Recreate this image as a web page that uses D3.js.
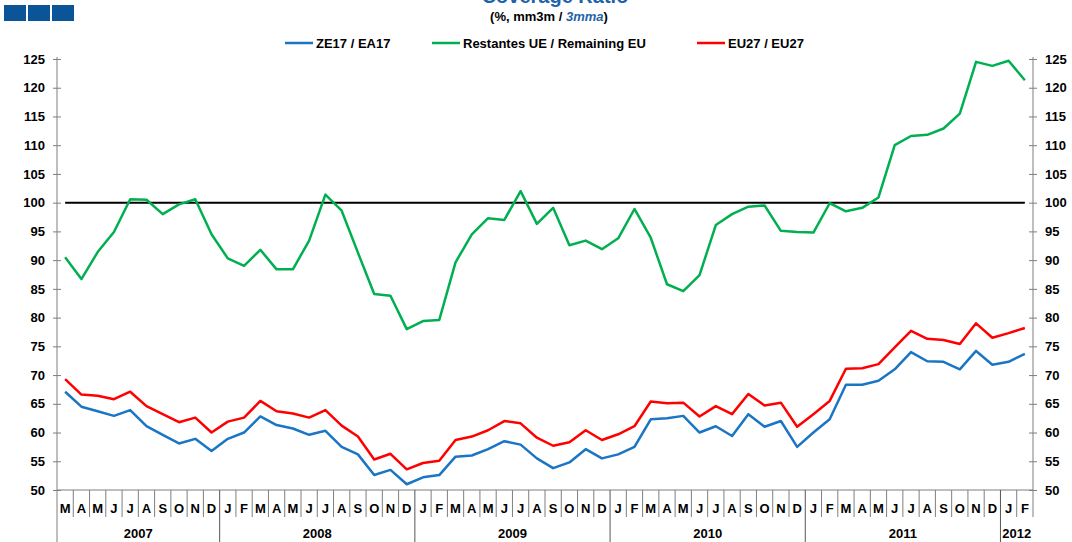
<!DOCTYPE html>
<html>
<head>
<meta charset="utf-8">
<script src="https://cdn.jsdelivr.net/npm/d3@7"></script>
<style>
  body { margin: 0; background: #fff; }
  text { font-family: "Liberation Sans", Arial, sans-serif; }
</style>
</head>
<body>
<div id="chart"></div>
<script>
var months = ["2007-03","2007-04","2007-05","2007-06","2007-07","2007-08","2007-09","2007-10","2007-11","2007-12",
  "2008-01","2008-02","2008-03","2008-04","2008-05","2008-06","2008-07","2008-08","2008-09","2008-10","2008-11","2008-12",
  "2009-01","2009-02","2009-03","2009-04","2009-05","2009-06","2009-07","2009-08","2009-09","2009-10","2009-11","2009-12",
  "2010-01","2010-02","2010-03","2010-04","2010-05","2010-06","2010-07","2010-08","2010-09","2010-10","2010-11","2010-12",
  "2011-01","2011-02","2011-03","2011-04","2011-05","2011-06","2011-07","2011-08","2011-09","2011-10","2011-11","2011-12",
  "2012-01","2012-02"];
var monthLetters = ["J","F","M","A","M","J","J","A","S","O","N","D"];
var years = ["2007","2008","2009","2010","2011","2012"];
var yTicks = [50,55,60,65,70,75,80,85,90,95,100,105,110,115,120,125];

var ze17 = [67.1,64.5,63.7,62.9,63.9,61.1,59.6,58.1,58.9,56.8,
  58.9,60.0,62.8,61.3,60.7,59.6,60.3,57.5,56.2,52.6,53.5,51.0,
  52.2,52.6,55.8,56.0,57.1,58.5,57.9,55.5,53.8,54.8,57.1,55.5,
  56.2,57.5,62.3,62.5,62.9,60.0,61.1,59.4,63.2,61.0,62.0,57.5,
  60.0,62.3,68.3,68.3,69.0,71.0,74.0,72.4,72.3,71.0,74.2,71.8,
  72.3,73.7];
var restUE = [90.5,86.7,91.4,94.9,100.6,100.5,98.0,99.7,100.6,94.5,
  90.3,89.0,91.8,88.4,88.4,93.4,101.4,98.6,91.3,84.1,83.8,78.0,
  79.4,79.6,89.6,94.5,97.3,97.0,102.0,96.3,99.1,92.6,93.4,91.9,
  93.8,98.9,93.9,85.8,84.6,87.4,96.1,98.0,99.3,99.5,95.1,94.9,
  94.8,99.9,98.5,99.1,100.9,110.0,111.6,111.8,112.9,115.5,124.5,123.8,
  124.7,121.3];
var eu27 = [69.3,66.6,66.4,65.8,67.1,64.6,63.2,61.8,62.6,60.0,
  61.9,62.6,65.5,63.7,63.3,62.6,63.9,61.2,59.3,55.3,56.3,53.6,
  54.7,55.1,58.7,59.3,60.4,62.0,61.6,59.1,57.7,58.3,60.4,58.7,
  59.7,61.1,65.4,65.1,65.2,62.8,64.6,63.2,66.7,64.7,65.2,61.0,
  63.2,65.5,71.1,71.2,71.9,74.8,77.7,76.3,76.1,75.4,79.0,76.5,
  77.3,78.2];

var seriesNames = ["ZE17 / EA17","Restantes UE / Remaining EU","EU27 / EU27"];
var seriesColors = ["#1a75c4","#00b050","#ff0000"];
var seriesData = [ze17, restUE, eu27];

var width = 1072, height = 542;
var plotLeft = 57, plotRight = 1033, plotTop = 59, plotBottom = 490;

var svg = d3.select("#chart").append("svg")
  .attr("width", width)
  .attr("height", height);

var x = d3.scaleBand().domain(months).range([plotLeft, plotRight]).padding(0);
var y = d3.scaleLinear().domain([50, 125]).range([plotBottom, plotTop]);

// logo squares
svg.selectAll(".logo").data([0,1,2]).enter().append("rect")
  .attr("x", function(d) { return 4 + d * 24; })
  .attr("y", 5)
  .attr("width", 22)
  .attr("height", 16)
  .attr("fill", "#0b5497");

// title
svg.append("text")
  .attr("x", 555).attr("y", 3)
  .attr("text-anchor", "middle")
  .attr("font-size", 20).attr("font-weight", "bold")
  .attr("fill", "#1f63aa")
  .text("Coverage Ratio");

var sub = svg.append("text")
  .attr("x", 549).attr("y", 21)
  .attr("text-anchor", "middle")
  .attr("font-size", 13).attr("font-weight", "bold")
  .attr("fill", "#000");
sub.append("tspan").text("(%, mm3m / ");
sub.append("tspan").attr("fill", "#1f63aa").attr("font-style", "italic").text("3mma");
sub.append("tspan").text(")");

// legend
var legendX = [285, 432, 697];
var legend = svg.selectAll(".legend").data(seriesNames).enter().append("g")
  .attr("class", "legend")
  .attr("transform", function(d, i) { return "translate(" + legendX[i] + ",43)"; });
legend.append("line")
  .attr("x1", 0).attr("x2", 28).attr("y1", 0).attr("y2", 0)
  .attr("stroke", function(d, i) { return seriesColors[i]; })
  .attr("stroke-width", 2.5);
legend.append("text")
  .attr("x", 31).attr("y", 5)
  .attr("font-size", 13).attr("font-weight", "bold")
  .text(function(d) { return d; });

// axes
var axisColor = "#7f7f7f";
var yLeft = svg.append("g")
  .attr("transform", "translate(" + plotLeft + ",0)")
  .call(d3.axisLeft(y).tickValues(yTicks).tickSize(4).tickPadding(8));
var yRight = svg.append("g")
  .attr("transform", "translate(" + plotRight + ",0)")
  .call(d3.axisRight(y).tickValues(yTicks).tickSize(4).tickPadding(8));
[yLeft, yRight].forEach(function(g) {
  g.select(".domain").remove();
  g.selectAll(".tick line").attr("x1", -4).attr("x2", 4).attr("stroke", axisColor);
  g.selectAll("text").attr("font-size", 13).attr("font-weight", "bold")
    .attr("font-family", "Liberation Sans, Arial, sans-serif").attr("fill", "#000");
});

svg.append("line")
  .attr("x1", plotLeft).attr("x2", plotLeft).attr("y1", plotTop - 2).attr("y2", height)
  .attr("stroke", axisColor);
svg.append("line")
  .attr("x1", plotRight).attr("x2", plotRight).attr("y1", plotTop - 2).attr("y2", 517)
  .attr("stroke", axisColor);
svg.append("line")
  .attr("x1", plotLeft).attr("x2", plotRight).attr("y1", plotBottom).attr("y2", plotBottom)
  .attr("stroke", axisColor);

// month separators and labels
svg.selectAll(".msep").data(months.slice(1)).enter().append("line")
  .attr("x1", function(d) { return x(d); })
  .attr("x2", function(d) { return x(d); })
  .attr("y1", plotBottom)
  .attr("y2", function(d) { return d.slice(5) === "01" ? height : 517; })
  .attr("stroke", function(d) { return d.slice(5) === "01" ? "#555" : axisColor; });

svg.selectAll(".mlab").data(months).enter().append("text")
  .attr("x", function(d) { return x(d) + x.bandwidth() / 2; })
  .attr("y", 513)
  .attr("text-anchor", "middle")
  .attr("font-size", 13).attr("font-weight", "bold")
  .text(function(d) { return monthLetters[+d.slice(5) - 1]; });

svg.selectAll(".ylab").data(years).enter().append("text")
  .attr("x", function(d) {
    var ms = months.filter(function(m) { return m.slice(0, 4) === d; });
    return (x(ms[0]) + x(ms[ms.length - 1]) + x.bandwidth()) / 2;
  })
  .attr("y", 538)
  .attr("text-anchor", "middle")
  .attr("font-size", 13).attr("font-weight", "bold")
  .text(function(d) { return d; });

// lines
var line = d3.line()
  .x(function(d, i) { return x(months[i]) + x.bandwidth() / 2; })
  .y(function(d) { return y(d); });

svg.append("path")
  .datum(months.map(function() { return 100; }))
  .attr("d", line)
  .attr("fill", "none")
  .attr("stroke", "#000")
  .attr("stroke-width", 2);

svg.selectAll(".series").data(seriesData).enter().append("path")
  .attr("d", line)
  .attr("fill", "none")
  .attr("stroke", function(d, i) { return seriesColors[i]; })
  .attr("stroke-width", 2.5)
  .attr("stroke-linejoin", "round");
</script>
</body>
</html>
